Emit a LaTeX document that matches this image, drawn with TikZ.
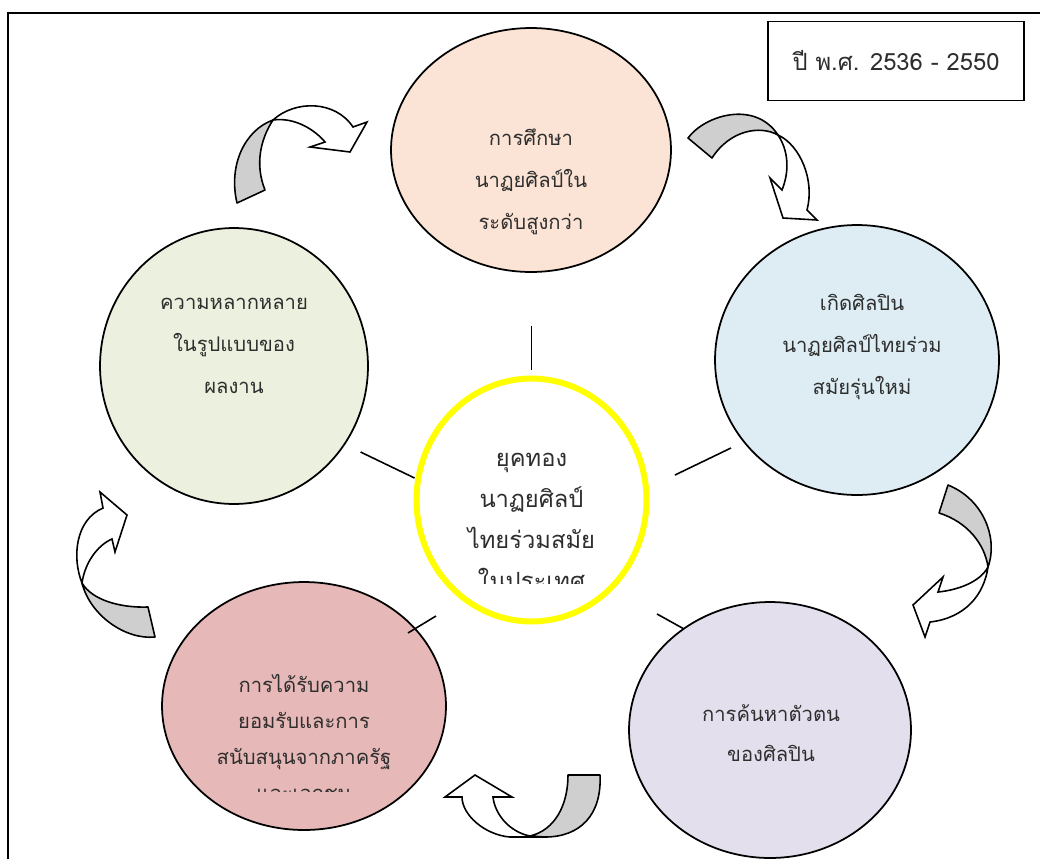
\documentclass[tikz,border=0pt]{standalone}
\usepackage{fontspec}
\newfontfamily\thaifont[Script=Thai]{Loma}
\usetikzlibrary{shapes.geometric,calc}
\definecolor{peach}{HTML}{FBE4D5}
\definecolor{sky}{HTML}{DDEDF3}
\definecolor{sage}{HTML}{EBF1DE}
\definecolor{rose}{HTML}{E6B8B7}
\definecolor{lilac}{HTML}{E4DFEC}
\definecolor{shade}{HTML}{CFCFCF}
\definecolor{ring}{HTML}{FFFF00}
\tikzset{x=0.02cm,y=-0.02cm,
  bubble/.style={ellipse,draw,line width=1pt,inner sep=0pt},
  txt/.style={font=\thaifont\fontsize{11.5}{23.8}\selectfont,align=center,text=black!82},
  link/.style={line width=0.9pt},
  flap/.style={draw,fill=shade,line width=0.9pt,line join=round},
  sweep/.style={draw,fill=white,line width=0.9pt,line join=miter}}
\begin{document}
\begin{tikzpicture}
    \useasboundingbox (0,0) rectangle (1040,859);
    % frame
    \draw[line width=1.1pt] (8,859) -- (8,13) -- (1040,13);
    \node[draw,line width=1pt,minimum width=5.12cm,minimum height=1.58cm,txt,font=\thaifont\fontsize{13.5}{16}\selectfont] (era) at (896,61) {ปี พ.ศ. 2536 - 2550};
    % bubbles
    \node[bubble,fill=peach,minimum width=5.6cm,minimum height=4.88cm] (study) at (531,150) {};
    \node[bubble,fill=sky,minimum width=5.68cm,minimum height=5.4cm] (artist) at (857,360) {};
    \node[bubble,fill=sage,minimum width=5.36cm,minimum height=5.52cm] (variety) at (234,366) {};
    \node[bubble,fill=rose,minimum width=5.68cm,minimum height=4.96cm] (support) at (304,706) {};
    \node[bubble,fill=lilac,minimum width=5.64cm,minimum height=5.12cm] (identity) at (770,730) {};
    \node[ellipse,draw=ring,fill=white,line width=3.4pt,inner sep=0pt,minimum width=4.6cm,minimum height=4.86cm] (core) at (531.5,500) {};
    % texts
    \node[txt] (study-t) at ($(study)+(0,32)$) {การศึกษา\\นาฏยศิลป์ใน\\ระดับสูงกว่า};
    \node[txt] (artist-t) at ($(artist)+(5,-13)$) {เกิดศิลปิน\\นาฏยศิลป์ไทยร่วม\\สมัยรุ่นใหม่};
    \node[txt] (variety-t) at ($(variety)+(0,-20)$) {ความหลากหลาย\\ในรูปแบบของ\\ผลงาน};
    \node[txt,font=\thaifont\fontsize{11.5}{22.7}\selectfont] (identity-t) at ($(identity)+(1,3)$) {การค้นหาตัวตน\\ของศิลปิน};
    \begin{scope}
      \clip (140,600) rectangle (460,791);
      \node[txt,font=\thaifont\fontsize{11.5}{20.5}\selectfont] (support-t) at ($(support)+(0,31)$) {การได้รับความ\\ยอมรับและการ\\สนับสนุนจากภาครัฐ\\และเอกชน};
    \end{scope}
    \begin{scope}
      \clip (420,390) rectangle (645,583);
      \node[txt,font=\thaifont\fontsize{13.5}{23.3}\selectfont] (core-t) at ($(core)+(0,21)$) {ยุคทอง\\นาฏยศิลป์\\ไทยร่วมสมัย\\ในประเทศ};
    \end{scope}
    % spokes
    \draw[link] (core.north) ++(0,-6) -- ++(0,-44);
    \draw[link] (core.west) ++(1,-22) -- ++(-54,-26);
    \draw[link] (core.east) ++(25.5,-25) -- ++(56,-27);
    \draw[link] (core.south) ++(-95.5,-8.5) -- ++(-28,17);
    \draw[link] (core.south) ++(125.5,-10.5) -- ++(27,15);
    % curved arrows
    \draw[flap] (237,203) .. controls (228,165) and (245,130) .. (273,120)
      .. controls (260,140) and (255,165) .. (265,190) -- cycle;
    \draw[sweep] (273,120) .. controls (295,100) and (335,100) .. (353,127)
      -- (367,122) -- (350,152) -- (310,147) -- (325,142)
      .. controls (315,130) and (295,117) .. (273,120) -- cycle;
    \draw[flap] (688,138) .. controls (705,115) and (755,100) .. (778,135)
      .. controls (760,125) and (730,130) .. (712,158) -- cycle;
    \draw[sweep] (778,135) .. controls (800,145) and (815,180) .. (807,210)
      -- (817,220) -- (783,218) -- (770,178) -- (782,190)
      .. controls (790,170) and (788,150) .. (778,135) -- cycle;
    \draw[flap] (948,485) .. controls (985,500) and (998,540) .. (988,567)
      .. controls (985,545) and (968,522) .. (939,513) -- cycle;
    \draw[sweep] (988,567) .. controls (984,595) and (965,618) .. (930,622)
      -- (925,637) -- (913,605) -- (943,577) -- (938,592)
      .. controls (958,590) and (980,582) .. (988,567) -- cycle;
    \draw[flap] (155,637) .. controls (125,640) and (90,615) .. (82,583)
      .. controls (92,600) and (120,608) .. (148,607) -- cycle;
    \draw[sweep] (82,583) .. controls (72,558) and (75,520) .. (103,508)
      -- (100,492) -- (127,515) -- (115,552) -- (112,539)
      .. controls (98,545) and (85,562) .. (82,583) -- cycle;
    \draw[sweep] (545,837) -- (510,837) .. controls (485,835) and (462,815) .. (462,797)
      -- (445,797) -- (475,775) -- (512,797) -- (493,797)
      .. controls (495,815) and (510,832) .. (530,836) -- cycle;
    \draw[flap] (568,775) -- (600,775) .. controls (602,815) and (580,837) .. (545,837)
      -- (530,836) .. controls (555,830) and (568,805) .. (568,775) -- cycle;
\end{tikzpicture}
\end{document}
